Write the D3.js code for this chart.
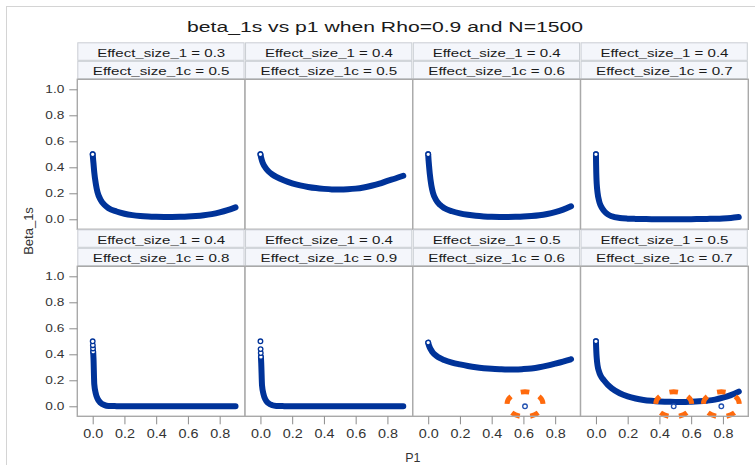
<!DOCTYPE html>
<html><head><meta charset="utf-8">
<script src="https://cdn.jsdelivr.net/npm/d3@7"></script>
<style>html,body{margin:0;padding:0;background:#fff;} svg{display:block;}</style>
</head><body>
<svg id="chart" width="755" height="465"></svg>
<script>
const titleText = "beta_1s vs p1 when Rho=0.9 and N=1500";
const xLabel = "P1";
const yLabel = "Beta_1s";
const effectSize1  = [0.3, 0.4, 0.4, 0.4, 0.4, 0.4, 0.5, 0.5];
const effectSize1c = [0.5, 0.5, 0.6, 0.7, 0.8, 0.9, 0.6, 0.7];
const p1 = [0, 0.001, 0.002, 0.003, 0.005, 0.01, 0.02, 0.03, 0.05, 0.075, 0.1, 0.15, 0.2, 0.25, 0.3, 0.35, 0.4, 0.45, 0.5, 0.55, 0.6, 0.65, 0.7, 0.75, 0.8, 0.85, 0.9];
const beta1 = [0.5, 0.485, 0.47, 0.455, 0.43, 0.36, 0.27, 0.21, 0.15, 0.11, 0.085, 0.06, 0.043, 0.032, 0.025, 0.021, 0.019, 0.018, 0.018, 0.019, 0.021, 0.025, 0.031, 0.040, 0.053, 0.070, 0.092];
const beta2 = [0.5, 0.494, 0.488, 0.482, 0.472, 0.45, 0.42, 0.40, 0.37, 0.345, 0.326, 0.298, 0.277, 0.261, 0.249, 0.240, 0.234, 0.230, 0.229, 0.231, 0.236, 0.245, 0.258, 0.274, 0.295, 0.314, 0.335];
const beta3 = [0.5, 0.48, 0.46, 0.445, 0.415, 0.35, 0.26, 0.205, 0.148, 0.11, 0.087, 0.062, 0.046, 0.035, 0.027, 0.022, 0.019, 0.018, 0.018, 0.019, 0.021, 0.025, 0.031, 0.041, 0.055, 0.074, 0.10];
const beta4 = [0.5, 0.42, 0.36, 0.32, 0.27, 0.205, 0.14, 0.105, 0.066, 0.038, 0.023, 0.010, 0.005, 0.003, 0.002, 0.001, 0.001, 0.001, 0.001, 0.001, 0.001, 0.002, 0.003, 0.004, 0.006, 0.010, 0.017];
const beta5 = [0.5, 0.47, 0.445, 0.42, 0.37, 0.17, 0.095, 0.06, 0.026, 0.009, 0.003, 0.001, 0, 0, 0, 0, 0, 0, 0, 0, 0, 0, 0, 0, 0, 0, 0];
const beta6 = [0.5, 0.44, 0.41, 0.38, 0.33, 0.16, 0.09, 0.055, 0.024, 0.008, 0.003, 0.001, 0, 0, 0, 0, 0, 0, 0, 0, 0, 0, 0, 0, 0, 0, 0];
const beta7 = [0.49, 0.485, 0.48, 0.476, 0.468, 0.452, 0.43, 0.412, 0.39, 0.37, 0.356, 0.336, 0.322, 0.31, 0.30, 0.293, 0.288, 0.285, 0.283, 0.283, 0.286, 0.291, 0.30, 0.313, 0.328, 0.344, 0.362];
const beta8 = [0.5, 0.46, 0.43, 0.405, 0.37, 0.315, 0.265, 0.235, 0.2, 0.165, 0.138, 0.1, 0.076, 0.06, 0.049, 0.042, 0.037, 0.035, 0.033, 0.033, 0.035, 0.038, 0.043, 0.051, 0.066, 0.086, 0.113];
const betaByPanel = [beta1, beta2, beta3, beta4, beta5, beta6, beta7, beta8];
const openHead = [1, 1, 1, 1, 4, 4, 1, 1];
const outlierPanel = [6, 7, 7];
const outlierP1 = [0.61, 0.49, 0.79];
const outlierBeta = [0, 0, 0];
const yTicks = [0, 0.2, 0.4, 0.6, 0.8, 1.0];
const xTicks = [0, 0.2, 0.4, 0.6, 0.8];

const svg = d3.select("#chart");
const FONT = "'Liberation Sans', Arial, sans-serif";
const BLUE = "#003399", ORANGE = "#ff6a0d";
const L = 77.3, R = 748.3, T = 42.3, stripH = 18.5, plotH = 150;
const nCols = 4;
const colW = (R - L) / nCols;
const rowH = 2 * stripH + plotH;

// outer frame
svg.append("rect").attr("x", 6.5).attr("y", 6.5).attr("width", 760).attr("height", 480)
  .attr("fill", "none").attr("stroke", "#d4d4d4");

svg.append("text").attr("x", 187).attr("y", 31.5).attr("font-family", FONT)
  .attr("font-size", 15.5).attr("fill", "#1a1a1a").attr("textLength", 396)
  .attr("lengthAdjust", "spacingAndGlyphs").text(titleText);

const fmt = d3.format(".1f");

effectSize1.forEach((es1, i) => {
  const r = Math.floor(i / nCols), c = i % nCols;
  const x0 = L + c * colW, y0 = T + r * rowH;
  const py = y0 + 2 * stripH;
  const x = d3.scaleLinear().domain([-0.097, 0.96]).range([x0, x0 + colW]);
  const y = d3.scaleLinear().domain([-0.077, 1.077]).range([py + plotH, py]);
  const g = svg.append("g");

  // strips
  [["Effect_size_1 = " + fmt(es1), 128], ["Effect_size_1c = " + fmt(effectSize1c[i]), 136.7]].forEach((s, k) => {
    const sy = y0 + k * stripH;
    g.append("rect").attr("x", x0 + 0.5).attr("y", sy + 0.5).attr("width", colW - 1.5).attr("height", stripH - 1)
      .attr("fill", "#f4f6fb").attr("stroke", "#c9cdd3");
    g.append("text").attr("x", x0 + colW / 2).attr("y", sy + 14.2).attr("text-anchor", "middle")
      .attr("font-family", FONT).attr("font-size", 11).attr("fill", "#1a1a1a")
      .attr("textLength", s[1]).attr("lengthAdjust", "spacingAndGlyphs").text(s[0]);
  });

  g.append("rect").attr("x", x0).attr("y", py).attr("width", colW).attr("height", plotH).attr("fill", "#fff");

  const beta = betaByPanel[i];
  const pts = p1.map((p, j) => [p, beta[j]]);
  const h = openHead[i];
  const line = d3.line().x(d => x(d[0])).y(d => y(d[1])).curve(d3.curveMonotoneX);
  g.append("path").attr("d", line(pts.slice(h - 1))).attr("fill", "none")
    .attr("stroke", BLUE).attr("stroke-width", 6).attr("stroke-linecap", "round").attr("stroke-linejoin", "round");
  g.selectAll("circle.head").data(pts.slice(0, h).reverse()).join("circle").attr("class", "head")
    .attr("cx", d => x(d[0])).attr("cy", d => y(d[1])).attr("r", 2.3)
    .attr("fill", "#fff").attr("stroke", BLUE).attr("stroke-width", 1.3);

  // outliers
  outlierPanel.forEach((op, k) => {
    if (op !== i) return;
    const cx = x(outlierP1[k]), cy = y(outlierBeta[k]);
    g.append("circle").attr("cx", cx).attr("cy", cy).attr("r", 2.3).attr("fill", "#fff")
      .attr("stroke", "#1f4fb0").attr("stroke-width", 1.3);
    const ex = cx, ey = cy - 2, rx = 18, ry = 12.5;
    g.append("path")
      .attr("d", `M${ex},${ey - ry} A${rx},${ry} 0 1 1 ${ex},${ey + ry} A${rx},${ry} 0 1 1 ${ex},${ey - ry}`)
      .attr("pathLength", 100).attr("fill", "none").attr("stroke", ORANGE).attr("stroke-width", 5)
      .attr("stroke-dasharray", "9 11").attr("stroke-dashoffset", 4.5);
  });

  g.append("rect").attr("x", x0).attr("y", py).attr("width", colW).attr("height", plotH)
    .attr("fill", "none").attr("stroke", "#a9a9a9").attr("stroke-width", 1.4);

  if (c === 0) {
    const ax = svg.append("g").attr("transform", `translate(${x0},0)`)
      .call(d3.axisLeft(y).tickValues(yTicks).tickFormat(fmt).tickSize(8).tickPadding(5));
    ax.select(".domain").remove();
    ax.selectAll(".tick line").attr("stroke", "#8c8c8c");
    ax.selectAll(".tick text").attr("font-family", FONT).attr("font-size", 11).attr("fill", "#333")
      .attr("textLength", 19).attr("lengthAdjust", "spacingAndGlyphs");
  }
  if (r === 1) {
    const ax = svg.append("g").attr("transform", `translate(0,${py + plotH})`)
      .call(d3.axisBottom(x).tickValues(xTicks).tickFormat(fmt).tickSize(8).tickPadding(5));
    ax.select(".domain").remove();
    ax.selectAll(".tick line").attr("stroke", "#8c8c8c");
    ax.selectAll(".tick text").attr("font-family", FONT).attr("font-size", 12.5).attr("fill", "#333")
      .attr("textLength", 20).attr("lengthAdjust", "spacingAndGlyphs");
  }
});

svg.append("text").attr("x", (L + R) / 2).attr("y", 462).attr("text-anchor", "middle")
  .attr("font-family", FONT).attr("font-size", 12.5).attr("fill", "#333").text(xLabel);
svg.append("text").attr("transform", "translate(33,231) rotate(-90)").attr("text-anchor", "middle")
  .attr("font-family", FONT).attr("font-size", 13).attr("fill", "#333").text(yLabel);
</script>
</body></html>
